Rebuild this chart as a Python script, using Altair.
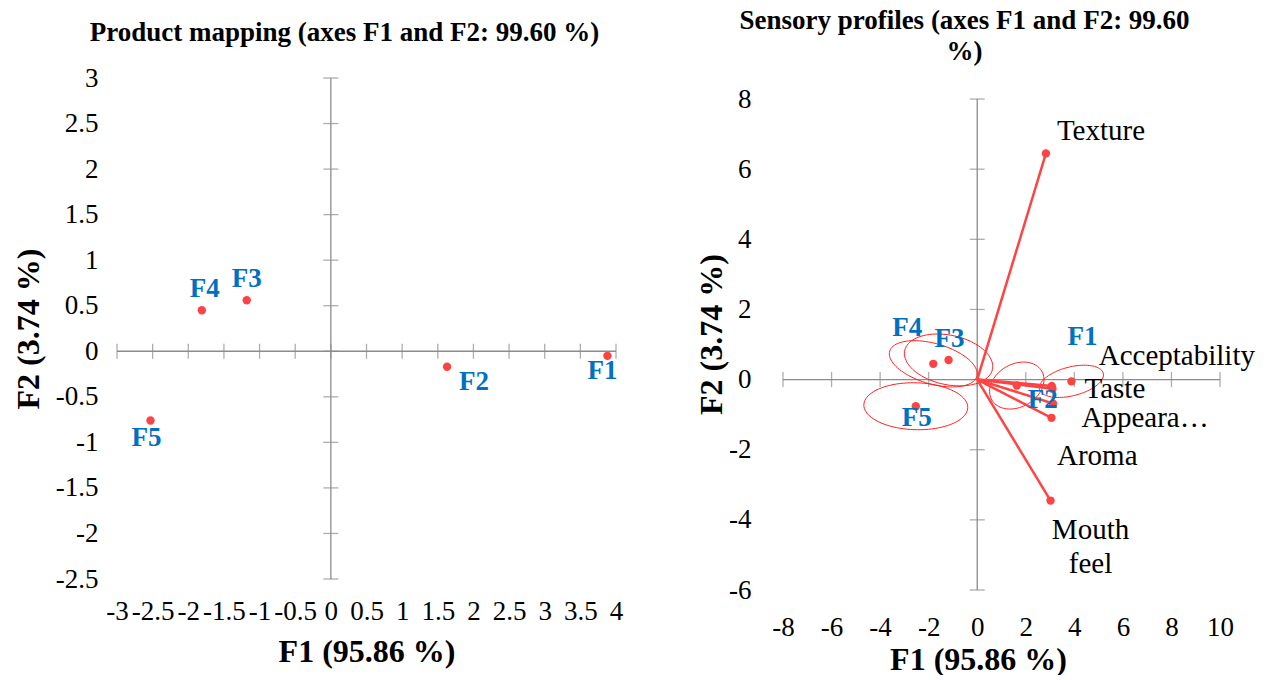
import altair as alt
import pandas as pd

FONT = "Liberation Serif"
RED = "#FF4343"
ELL = "#FF2020"
BLUE = "#0070C0"
AXIS = "#8C8C8C"

# ---- data ----
products = ["F1", "F2", "F3", "F4", "F5"]
prod_f1 = [3.88, 1.63, -1.18, -1.81, -2.53]
prod_f2 = [-0.05, -0.17, 0.56, 0.45, -0.76]

variables = ["Texture", "Acceptability", "Taste", "Appearance", "Aroma", "Mouth feel"]
var_text = ["Texture", "Acceptability", "Taste", "Appeara…", "Aroma", "Mouth\nfeel"]
var_f1 = [2.83, 3.07, 3.10, 3.06, 3.12, 3.02]
var_f2 = [6.45, -0.18, -0.26, -1.09, -0.68, -3.45]

# confidence ellipses around the products (half extents along F1/F2 and tilt correlation)
ell_hx = [1.32, 1.12, 1.82, 1.81, 2.14]
ell_hy = [0.46, 0.67, 0.74, 0.66, 0.67]
ell_rho = [0.40, 0.25, -0.25, -0.43, -0.05]

left_x_ticks = [-3, -2.5, -2, -1.5, -1, -0.5, 0, 0.5, 1, 1.5, 2, 2.5, 3, 3.5, 4]
left_y_ticks = [-2.5, -2, -1.5, -1, -0.5, 0, 0.5, 1, 1.5, 2, 2.5, 3]
right_x_ticks = [-8, -6, -4, -2, 0, 2, 4, 6, 8, 10]
right_y_ticks = [-6, -4, -2, 0, 2, 4, 6, 8]

prod_df = pd.DataFrame({"name": products, "f1": prod_f1, "f2": prod_f2, "label": products})
var_df = pd.DataFrame({"name": variables, "f1": var_f1, "f2": var_f2, "label": var_text})
ell_df = pd.DataFrame({"name": products, "cx": prod_f1, "cy": prod_f2,
                       "hx": ell_hx, "hy": ell_hy, "rho": ell_rho})


def axis(values, lab_pad, title, title_pad, **extra):
    return alt.Axis(values=values, domain=False, ticks=False, grid=False,
                    labelExpr="'' + datum.value", labelFont=FONT, labelFontSize=27,
                    labelColor="black", labelPadding=lab_pad, labelOverlap=False,
                    labelFlush=False, title=title, titleFont=FONT, titleFontSize=32,
                    titleFontWeight="bold", titleColor="black", titlePadding=title_pad,
                    **extra)


def scale(ticks, top=None):
    return alt.Scale(domain=[ticks[0], top if top is not None else ticks[-1]],
                     nice=False, zero=False)


class Panel:
    def __init__(self, XS, YS, XA, YA):
        self.XS, self.YS, self.XA, self.YA = XS, YS, XA, YA

    def X(self, f):
        return alt.X(f, scale=self.XS, axis=self.XA)

    def Y(self, f):
        return alt.Y(f, scale=self.YS, axis=self.YA)


def crosshair(p, xt, yt, tick_size):
    h = alt.Chart(pd.DataFrame({"a": [xt[0]], "b": [xt[-1]], "o": [0]})).mark_rule(
        color=AXIS, strokeWidth=1.3).encode(x=p.X("a:Q"), x2="b:Q", y=p.Y("o:Q"))
    v = alt.Chart(pd.DataFrame({"a": [yt[0]], "b": [yt[-1]], "o": [0]})).mark_rule(
        color=AXIS, strokeWidth=1.3).encode(y=p.Y("a:Q"), y2="b:Q", x=p.X("o:Q"))
    tx = alt.Chart(pd.DataFrame({"v": xt, "o": [0] * len(xt)})).mark_tick(
        orient="vertical", size=tick_size, thickness=1.3, color=AXIS).encode(
        x=p.X("v:Q"), y=p.Y("o:Q"))
    ty = alt.Chart(pd.DataFrame({"v": yt, "o": [0] * len(yt)})).mark_tick(
        orient="horizontal", size=tick_size, thickness=1.3, color=AXIS).encode(
        y=p.Y("v:Q"), x=p.X("o:Q"))
    return [h, v, tx, ty]


def label(p, df, name, dx, dy, align="center", color=BLUE, weight="bold",
          size=27, baseline="middle"):
    return alt.Chart(df).transform_filter(alt.datum.name == name).mark_text(
        dx=dx, dy=dy, align=align, baseline=baseline, font=FONT, fontSize=size,
        fontWeight=weight, color=color, lineBreak="\n", lineHeight=34).encode(
        x=p.X("f1:Q"), y=p.Y("f2:Q"), text="label:N")


# ---------------- left panel: product mapping ----------------
L = Panel(scale(left_x_ticks), scale(left_y_ticks),
          axis(left_x_ticks, 19, "F1 (95.86 %)", 12),
          axis(left_y_ticks, 19, "F2 (3.74 %)", 10))

left_points = alt.Chart(prod_df).mark_circle(size=70, color=RED, opacity=1).encode(
    x=L.X("f1:Q"), y=L.Y("f2:Q"))

left_offsets = {"F1": (-5, 15), "F2": (27, 15), "F3": (0, -21), "F4": (3, -21), "F5": (-4, 17)}
left_labels = [label(L, prod_df, n, dx, dy) for n, (dx, dy) in left_offsets.items()]

left = alt.layer(*crosshair(L, left_x_ticks, left_y_ticks, 15), left_points,
                 *left_labels).properties(
    width=499, height=501,
    title=alt.TitleParams(text="Product mapping  (axes F1 and F2: 99.60 %)", font=FONT,
                          fontSize=27, fontWeight="bold", color="black",
                          anchor="middle", frame="group", dx=-22, offset=17.5))

# ---------------- right panel: biplot ----------------
R = Panel(scale(right_x_ticks), scale(right_y_ticks, top=8.6),
          axis(right_x_ticks, 24, "F1 (95.86 %)", 4, titleX=195),
          axis(right_y_ticks, 32, "F2 (3.74 %)", 0))

ellipses = alt.Chart(ell_df).transform_calculate(
    deg="sequence(0, 361, 4)").transform_flatten(["deg"]).transform_calculate(
    t="datum.deg * PI / 180",
    ex="datum.cx + datum.hx * cos(datum.t)",
    ey="datum.cy + datum.hy * (datum.rho * cos(datum.t) + sqrt(1 - datum.rho * datum.rho) * sin(datum.t))",
).mark_line(color=ELL, strokeWidth=1).encode(
    x=R.X("ex:Q"), y=R.Y("ey:Q"), detail="name:N", order="deg:Q")

vectors = alt.Chart(var_df).transform_calculate(z="0").mark_rule(
    color=RED, strokeWidth=2.5).encode(
    x=R.X("z:Q"), y=R.Y("z:Q"), x2="f1:Q", y2="f2:Q")

var_points = alt.Chart(var_df).mark_circle(size=70, color=RED, opacity=1).encode(
    x=R.X("f1:Q"), y=R.Y("f2:Q"))
prod_points = alt.Chart(prod_df).mark_circle(size=70, color=RED, opacity=1).encode(
    x=R.X("f1:Q"), y=R.Y("f2:Q"))

right_prod_offsets = {"F1": (11, -44), "F2": (26, 14), "F3": (1, -21), "F4": (-26, -36), "F5": (1, 12)}
right_prod_labels = [label(R, prod_df, n, dx, dy) for n, (dx, dy) in right_prod_offsets.items()]

var_offsets = {"Texture": (11, -22, "left"), "Acceptability": (47, -30, "left"),
               "Taste": (32, 0, "left"), "Appearance": (30, 0, "left"),
               "Aroma": (4, 53, "left"), "Mouth feel": (40, 29, "center")}
var_labels = [label(R, var_df, n, dx, dy, align=al, color="black", weight="normal", size=29)
              for n, (dx, dy, al) in var_offsets.items()]

right = alt.layer(*crosshair(R, right_x_ticks, right_y_ticks, 15), ellipses, vectors,
                  var_points, prod_points, *right_prod_labels, *var_labels).properties(
    width=437, height=512,
    title=alt.TitleParams(text=["Sensory profiles (axes F1 and F2: 99.60", "%)"], font=FONT,
                          fontSize=27, fontWeight="bold", color="black", lineHeight=31,
                          anchor="middle", frame="group", dx=-37, offset=12.5))

chart = alt.hconcat(left, right, spacing=72).properties(
    padding={"left": 12, "top": 6, "right": 5, "bottom": 0},
    background="white",
).configure_view(stroke=None)

chart.save("out.html", embed_options={"renderer": "svg", "actions": False})
